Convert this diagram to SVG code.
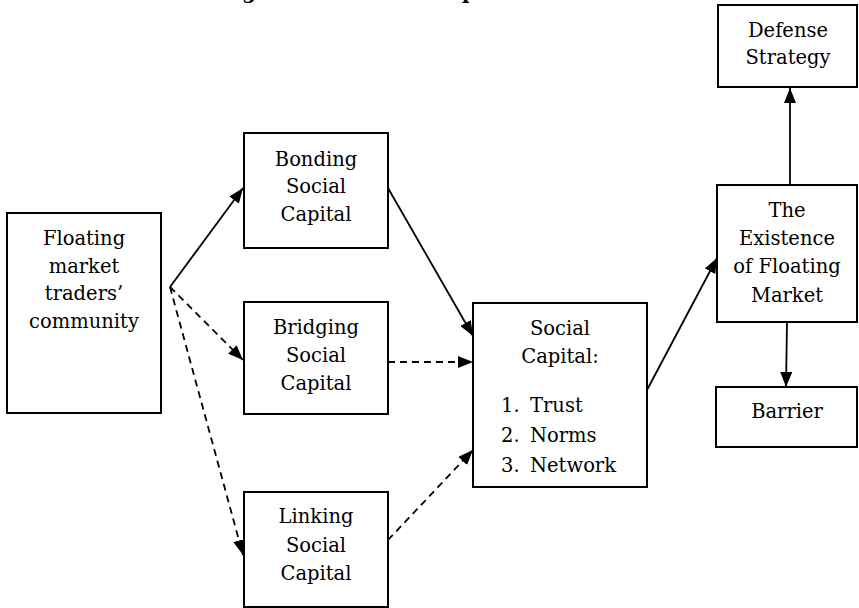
<svg xmlns="http://www.w3.org/2000/svg" width="859" height="608" viewBox="0 0 859 608">
<style>
.box{fill:#fff;stroke:#000;stroke-width:2}
.c{fill:none;stroke:#000;stroke-width:1.8}
.d{stroke-dasharray:7 5}
</style>
<defs>
<marker id="ah" markerUnits="userSpaceOnUse" markerWidth="16" markerHeight="12" refX="15" refY="6" orient="auto">
<path d="M0,0 L15,6 L0,12 Z" fill="#000"/>
</marker>
</defs>
<rect width="859" height="608" fill="#fff"/>
<g id="title-fragment" font-family="DejaVu Serif, serif" font-size="20" font-weight="bold" fill="#000">
<text x="242" y="-1">g</text>
<text x="462" y="-1">p</text>
</g>
<g id="connectors">
<line class="c" x1="170" y1="287" x2="243" y2="188" marker-end="url(#ah)"/>
<line class="c d" x1="170" y1="287" x2="243" y2="360" marker-end="url(#ah)"/>
<line class="c d" x1="170" y1="287" x2="243" y2="555" marker-end="url(#ah)"/>
<line class="c" x1="388" y1="188" x2="473" y2="336" marker-end="url(#ah)"/>
<line class="c d" x1="388" y1="362" x2="473" y2="362" marker-end="url(#ah)"/>
<line class="c d" x1="388" y1="540" x2="473" y2="450" marker-end="url(#ah)"/>
<line class="c" x1="647" y1="390" x2="717" y2="258" marker-end="url(#ah)"/>
<line class="c" x1="790" y1="185" x2="790" y2="88" marker-end="url(#ah)"/>
<line class="c" x1="787" y1="322" x2="786" y2="387" marker-end="url(#ah)"/>
</g>
<g font-family="DejaVu Serif, serif" font-size="19.5" fill="#000">
<g id="community" text-anchor="middle">
<rect class="box" x="7" y="213" width="154" height="200"/>
<text x="84" y="245">Floating</text>
<text x="84" y="273">market</text>
<text x="84" y="300">traders’</text>
<text x="84" y="328">community</text>
</g>
<g id="bonding" text-anchor="middle">
<rect class="box" x="244" y="133" width="144" height="115"/>
<text x="316" y="166">Bonding</text>
<text x="316" y="193">Social</text>
<text x="316" y="221">Capital</text>
</g>
<g id="bridging" text-anchor="middle">
<rect class="box" x="244" y="302" width="144" height="112"/>
<text x="316" y="334">Bridging</text>
<text x="316" y="362">Social</text>
<text x="316" y="390">Capital</text>
</g>
<g id="linking" text-anchor="middle">
<rect class="box" x="244" y="492" width="144" height="115"/>
<text x="316" y="523">Linking</text>
<text x="316" y="552">Social</text>
<text x="316" y="580">Capital</text>
</g>
<g id="social-capital">
<rect class="box" x="473" y="303" width="174" height="184"/>
<text x="560" y="335" text-anchor="middle">Social</text>
<text x="560" y="363" text-anchor="middle">Capital:</text>
<text x="501" y="412">1.</text><text x="530" y="412">Trust</text>
<text x="501" y="442">2.</text><text x="530" y="442">Norms</text>
<text x="501" y="472">3.</text><text x="530" y="472">Network</text>
</g>
<g id="defense" text-anchor="middle">
<rect class="box" x="718" y="5" width="139" height="82"/>
<text x="788" y="37">Defense</text>
<text x="788" y="64">Strategy</text>
</g>
<g id="existence" text-anchor="middle">
<rect class="box" x="717" y="185" width="140" height="137"/>
<text x="787" y="217">The</text>
<text x="787" y="245">Existence</text>
<text x="787" y="273">of Floating</text>
<text x="787" y="302">Market</text>
</g>
<g id="barrier" text-anchor="middle">
<rect class="box" x="716" y="387" width="141" height="60"/>
<text x="787" y="418">Barrier</text>
</g>
</g>
</svg>
